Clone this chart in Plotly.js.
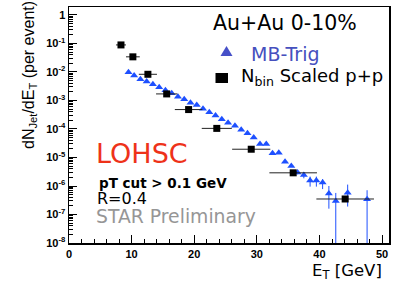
<!DOCTYPE html>
<html>
<head>
<meta charset="utf-8">
<script src="https://cdn.plot.ly/plotly-3.0.1.min.js"></script>
<style>html,body{margin:0;padding:0;background:#fff;}#chart{width:407px;height:284px;}</style>
</head>
<body>
<div id="chart"></div>
<script>
// ---- data ----
// MB-Trig (Au+Au 0-10%) jet spectrum
var mbX = [9.5, 10.4, 11.4, 12.4, 13.4, 14.4, 15.4, 16.4, 17.4, 18.4, 19.4, 20.4, 21.4, 22.4, 23.4, 24.4, 25.4, 26.5, 27.5, 28.5, 29.5, 30.5, 31.5, 32.5, 33.5, 34.5, 35.5, 36.5, 37.5, 38.5, 39.5, 40.5, 41.5, 42.6, 44.5, 47.6];
var mbY = [9.8e-3, 7.6e-3, 5.6e-3, 4.6e-3, 3.7e-3, 2.9e-3, 2.3e-3, 1.8e-3, 1.35e-3, 1.1e-3, 8.3e-4, 6.9e-4, 5.1e-4, 3.9e-4, 3.0e-4, 2.2e-4, 1.66e-4, 1.29e-4, 9.5e-5, 7.1e-5, 5.0e-5, 3.0e-5, 3.0e-5, 1.4e-5, 1.48e-5, 7.1e-6, 5.0e-6, 2.95e-6, 2.45e-6, 1.55e-6, 1.55e-6, 1.32e-6, 5.5e-7, 3.0e-7, 5.8e-7, 3.4e-7];
var mbErrUp = [0,0,0,0,0,0,0,0,0,0,0,0,0,0,0,0,0,0,0,0,0,0,0,0,0,0,0.4e-6, 0.45e-6, 0.63e-6, 0.59e-6, 0.59e-6, 0.42e-6, 4.5e-7, 2.7e-7, 5.4e-7, 3.7e-7];
var mbErrDown = [0,0,0,0,0,0,0,0,0,0,0,0,0,0,0,0,0,0,0,0,0,0,0,0,0,0,0.3e-6, 0.38e-6, 0.59e-6, 0.6e-6, 0.6e-6, 0.54e-6, 3.9e-7, 3.0e-7, 3.9e-7, 3.4e-7];
// Nbin scaled p+p
var ppX = [8.3, 10.2, 12.6, 15.6, 19.1, 23.6, 29.1, 35.8, 44.1];
var ppY = [0.089, 0.034, 0.0083, 0.0017, 4.8e-4, 1.05e-4, 1.95e-5, 2.9e-6, 3.5e-7];
var ppXerr = [0.8, 1.1, 1.45, 1.7, 2.2, 2.4, 3.05, 3.8, 4.6];
// axis tick labels
var yTickVals = [1e-8, 1e-7, 1e-6, 1e-5, 1e-4, 1e-3, 1e-2, 1e-1, 1];
var yTickText = ['10<sup>-8</sup>', '10<sup>-7</sup>', '10<sup>-6</sup>', '10<sup>-5</sup>', '10<sup>-4</sup>', '10<sup>-3</sup>', '10<sup>-2</sup>', '10<sup>-1</sup>', '1'];
var xTickVals = [0, 10, 20, 30, 40, 50];

var FONT = 'Liberation Sans, Arial, Helvetica, sans-serif';
var WIDE = 'DejaVu Sans, Verdana, sans-serif';
var BLUE = 'rgb(30,80,255)';

var traces = [
  {
    x: mbX, y: mbY, type: 'scatter', mode: 'markers', name: 'MB-Trig',
    marker: {symbol: 'triangle-up', size: 7, color: BLUE},
    error_y: {type: 'data', symmetric: false, array: mbErrUp, arrayminus: mbErrDown,
              color: BLUE, thickness: 1, width: 0},
    cliponaxis: true
  },
  {
    x: ppX, y: ppY, type: 'scatter', mode: 'markers', name: 'Nbin Scaled p+p',
    marker: {symbol: 'square', size: 7, color: '#000'},
    error_x: {type: 'data', array: ppXerr, color: '#222', thickness: 1, width: 0}
  }
];

function px2x(px) { return (px - 69) / 320; }
function py2y(py) { return (243 - py) / 236; }

var layout = {
  width: 407, height: 284,
  margin: {l: 69, r: 18, t: 7, b: 41},
  paper_bgcolor: '#fff', plot_bgcolor: '#fff',
  showlegend: false,
  font: {family: FONT, color: '#000'},
  xaxis: {
    range: [0, 51.1], tickmode: 'array', tickvals: xTickVals,
    ticks: 'inside', ticklen: 8, tickwidth: 1, tickcolor: '#000',
    minor: {ticks: 'inside', ticklen: 4, dtick: 2, tick0: 0, tickcolor: '#000', showgrid: false},
    showline: true, linewidth: 1.5, linecolor: '#000', mirror: true,
    showgrid: false, zeroline: false,
    tickfont: {family: FONT, size: 11, weight: 'bold', color: '#000'}
  },
  yaxis: {
    type: 'log', range: [-8, 0.28], tickmode: 'array', tickvals: yTickVals, ticktext: yTickText,
    ticks: 'inside', ticklen: 8, tickwidth: 1, tickcolor: '#000',
    minor: {ticks: 'inside', ticklen: 4, dtick: 'D1', tickcolor: '#000', showgrid: false},
    showline: true, linewidth: 1.5, linecolor: '#000', mirror: true,
    showgrid: false, zeroline: false,
    tickfont: {family: FONT, size: 11, weight: 'bold', color: '#000'}
  },
  shapes: [
    {type: 'path', xref: 'paper', yref: 'paper',
     path: 'M ' + px2x(226.5) + ' ' + py2y(46) + ' L ' + px2x(232.5) + ' ' + py2y(56) + ' L ' + px2x(220.5) + ' ' + py2y(56) + ' Z',
     fillcolor: 'rgb(70,80,200)', line: {width: 0}},
    {type: 'rect', xref: 'paper', yref: 'paper',
     x0: px2x(215.5), x1: px2x(228), y0: py2y(83), y1: py2y(73),
     fillcolor: '#000', line: {width: 0}}
  ],
  annotations: [
    {text: 'Au+Au 0-10%', xref: 'paper', yref: 'paper', x: px2x(211), y: py2y(23), xanchor: 'left', yanchor: 'middle',
     showarrow: false, font: {family: WIDE, size: 20.5, color: '#000'}},
    {text: 'MB-Trig', xref: 'paper', yref: 'paper', x: px2x(249), y: py2y(53.5), xanchor: 'left', yanchor: 'middle',
     showarrow: false, font: {family: WIDE, size: 19, color: 'rgb(70,80,190)'}},
    {text: 'N<sub>bin</sub> Scaled p+p', xref: 'paper', yref: 'paper', x: px2x(239), y: py2y(77), xanchor: 'left', yanchor: 'middle',
     showarrow: false, font: {family: WIDE, size: 18, color: '#000'}},
    {text: 'LOHSC', xref: 'paper', yref: 'paper', x: px2x(94), y: py2y(153), xanchor: 'left', yanchor: 'middle',
     showarrow: false, font: {family: WIDE, size: 27, color: 'rgb(238,50,25)'}},
    {text: 'pT cut > 0.1 GeV', xref: 'paper', yref: 'paper', x: px2x(97), y: py2y(182.5), xanchor: 'left', yanchor: 'middle',
     showarrow: false, font: {family: WIDE, size: 13.5, weight: 'bold', color: '#000'}},
    {text: 'R=0.4', xref: 'paper', yref: 'paper', x: px2x(95), y: py2y(198.5), xanchor: 'left', yanchor: 'middle',
     showarrow: false, font: {family: WIDE, size: 16, color: '#000'}},
    {text: 'STAR Preliminary', xref: 'paper', yref: 'paper', x: px2x(94), y: py2y(216.5), xanchor: 'left', yanchor: 'middle',
     showarrow: false, font: {family: WIDE, size: 18.8, color: 'rgb(150,150,150)'}},
    {text: 'E<sub>T</sub> [GeV]', xref: 'paper', yref: 'paper', x: px2x(384), y: py2y(271.5), xanchor: 'right', yanchor: 'middle',
     showarrow: false, font: {family: WIDE, size: 16.5, color: '#000'}},
    {text: 'dN<sub>Jet</sub>/dE<sub>T</sub> (per event)', xref: 'paper', yref: 'paper', x: px2x(29), y: py2y(75), xanchor: 'center', yanchor: 'middle',
     textangle: -90, showarrow: false, font: {family: FONT, size: 16, color: '#000'}}
  ]
};

Plotly.newPlot('chart', traces, layout, {staticPlot: true, displayModeBar: false});
</script>
</body>
</html>
